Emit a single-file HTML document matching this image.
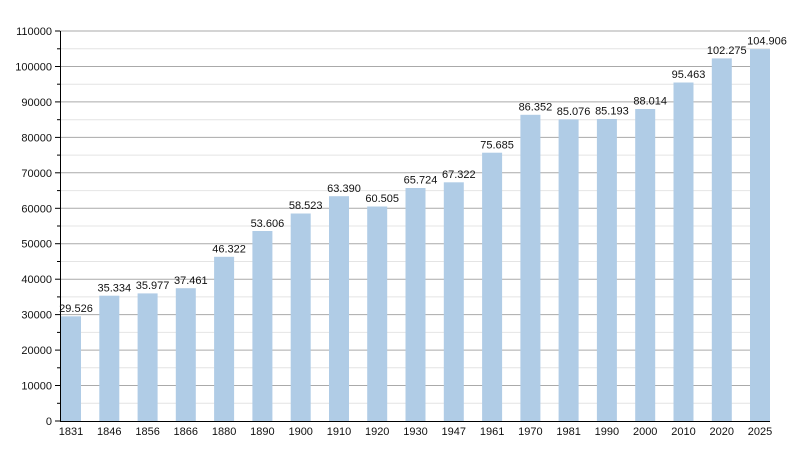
<!DOCTYPE html>
<html><head><meta charset="utf-8"><style>body{margin:0;background:#fff}svg{display:block}text{font-family:"Liberation Sans",sans-serif;font-size:11px;fill:#111}</style></head><body>
<svg width="800" height="450" xmlns="http://www.w3.org/2000/svg">
<g stroke="#e4e4e4" stroke-width="1">
<line x1="60" x2="770" y1="403.3" y2="403.3"/><line x1="60" x2="770" y1="367.8" y2="367.8"/><line x1="60" x2="770" y1="332.4" y2="332.4"/><line x1="60" x2="770" y1="296.9" y2="296.9"/><line x1="60" x2="770" y1="261.5" y2="261.5"/><line x1="60" x2="770" y1="226" y2="226"/><line x1="60" x2="770" y1="190.6" y2="190.6"/><line x1="60" x2="770" y1="155.1" y2="155.1"/><line x1="60" x2="770" y1="119.7" y2="119.7"/><line x1="60" x2="770" y1="84.2" y2="84.2"/><line x1="60" x2="770" y1="48.8" y2="48.8"/>
</g>
<g stroke="#aaa" stroke-width="1">
<line x1="60" x2="770" y1="385.5" y2="385.5"/><line x1="60" x2="770" y1="350.1" y2="350.1"/><line x1="60" x2="770" y1="314.6" y2="314.6"/><line x1="60" x2="770" y1="279.2" y2="279.2"/><line x1="60" x2="770" y1="243.7" y2="243.7"/><line x1="60" x2="770" y1="208.3" y2="208.3"/><line x1="60" x2="770" y1="172.8" y2="172.8"/><line x1="60" x2="770" y1="137.4" y2="137.4"/><line x1="60" x2="770" y1="101.9" y2="101.9"/><line x1="60" x2="770" y1="66.5" y2="66.5"/><line x1="60" x2="770" y1="31" y2="31"/>
</g>
<g fill="#b0cce6">
<rect x="61" y="316.3" width="20" height="104.7"/><rect x="99.3" y="295.7" width="20" height="125.3"/><rect x="137.6" y="293.4" width="20" height="127.6"/><rect x="175.8" y="288.2" width="20" height="132.8"/><rect x="214.1" y="256.8" width="20" height="164.2"/><rect x="252.4" y="231" width="20" height="190"/><rect x="290.7" y="213.5" width="20" height="207.5"/><rect x="329" y="196.2" width="20" height="224.8"/><rect x="367.2" y="206.5" width="20" height="214.5"/><rect x="405.5" y="188" width="20" height="233"/><rect x="443.8" y="182.3" width="20" height="238.7"/><rect x="482.1" y="152.7" width="20" height="268.3"/><rect x="520.4" y="114.8" width="20" height="306.2"/><rect x="558.6" y="119.4" width="20" height="301.6"/><rect x="596.9" y="119" width="20" height="302"/><rect x="635.2" y="109" width="20" height="312"/><rect x="673.5" y="82.5" width="20" height="338.5"/><rect x="711.8" y="58.4" width="20" height="362.6"/><rect x="750" y="49.1" width="20" height="371.9"/>
</g>
<g stroke="#000" stroke-width="1">
<line x1="60.5" x2="60.5" y1="31" y2="421"/><line x1="60" x2="770" y1="421.5" y2="421.5"/>
<line x1="55" x2="60" y1="421" y2="421"/><line x1="55" x2="60" y1="385.5" y2="385.5"/><line x1="55" x2="60" y1="350.1" y2="350.1"/><line x1="55" x2="60" y1="314.6" y2="314.6"/><line x1="55" x2="60" y1="279.2" y2="279.2"/><line x1="55" x2="60" y1="243.7" y2="243.7"/><line x1="55" x2="60" y1="208.3" y2="208.3"/><line x1="55" x2="60" y1="172.8" y2="172.8"/><line x1="55" x2="60" y1="137.4" y2="137.4"/><line x1="55" x2="60" y1="101.9" y2="101.9"/><line x1="55" x2="60" y1="66.5" y2="66.5"/><line x1="55" x2="60" y1="31" y2="31"/>
<line x1="57" x2="60" y1="403.3" y2="403.3"/><line x1="57" x2="60" y1="367.8" y2="367.8"/><line x1="57" x2="60" y1="332.4" y2="332.4"/><line x1="57" x2="60" y1="296.9" y2="296.9"/><line x1="57" x2="60" y1="261.5" y2="261.5"/><line x1="57" x2="60" y1="226" y2="226"/><line x1="57" x2="60" y1="190.6" y2="190.6"/><line x1="57" x2="60" y1="155.1" y2="155.1"/><line x1="57" x2="60" y1="119.7" y2="119.7"/><line x1="57" x2="60" y1="84.2" y2="84.2"/><line x1="57" x2="60" y1="48.8" y2="48.8"/>
</g>
<g text-anchor="end">
<text x="52" y="425">0</text><text x="52" y="389.5">10000</text><text x="52" y="354.1">20000</text><text x="52" y="318.6">30000</text><text x="52" y="283.2">40000</text><text x="52" y="247.7">50000</text><text x="52" y="212.3">60000</text><text x="52" y="176.8">70000</text><text x="52" y="141.4">80000</text><text x="52" y="105.9">90000</text><text x="52" y="70.5">100000</text><text x="52" y="35">110000</text>
</g>
<g text-anchor="middle">
<text x="71" y="435">1831</text><text x="109.3" y="435">1846</text><text x="147.6" y="435">1856</text><text x="185.8" y="435">1866</text><text x="224.1" y="435">1880</text><text x="262.4" y="435">1890</text><text x="300.7" y="435">1900</text><text x="339" y="435">1910</text><text x="377.2" y="435">1920</text><text x="415.5" y="435">1930</text><text x="453.8" y="435">1947</text><text x="492.1" y="435">1961</text><text x="530.4" y="435">1970</text><text x="568.6" y="435">1981</text><text x="606.9" y="435">1990</text><text x="645.2" y="435">2000</text><text x="683.5" y="435">2010</text><text x="721.8" y="435">2020</text><text x="760" y="435">2025</text>
<text x="76" y="312">29.526</text><text x="114.3" y="291.5">35.334</text><text x="152.6" y="289">35.977</text><text x="190.8" y="284">37.461</text><text x="229.1" y="252.5">46.322</text><text x="267.4" y="227">53.606</text><text x="305.7" y="209">58.523</text><text x="344" y="192">63.390</text><text x="382.2" y="202">60.505</text><text x="420.5" y="183.5">65.724</text><text x="458.8" y="178">67.322</text><text x="497.1" y="148.5">75.685</text><text x="535.4" y="110.5">86.352</text><text x="573.6" y="115">85.076</text><text x="611.9" y="114.5">85.193</text><text x="650.2" y="104.5">88.014</text><text x="688.5" y="78">95.463</text><text x="726.8" y="54">102.275</text><text x="767" y="44.5">104.906</text>
</g>
</svg>
</body></html>
